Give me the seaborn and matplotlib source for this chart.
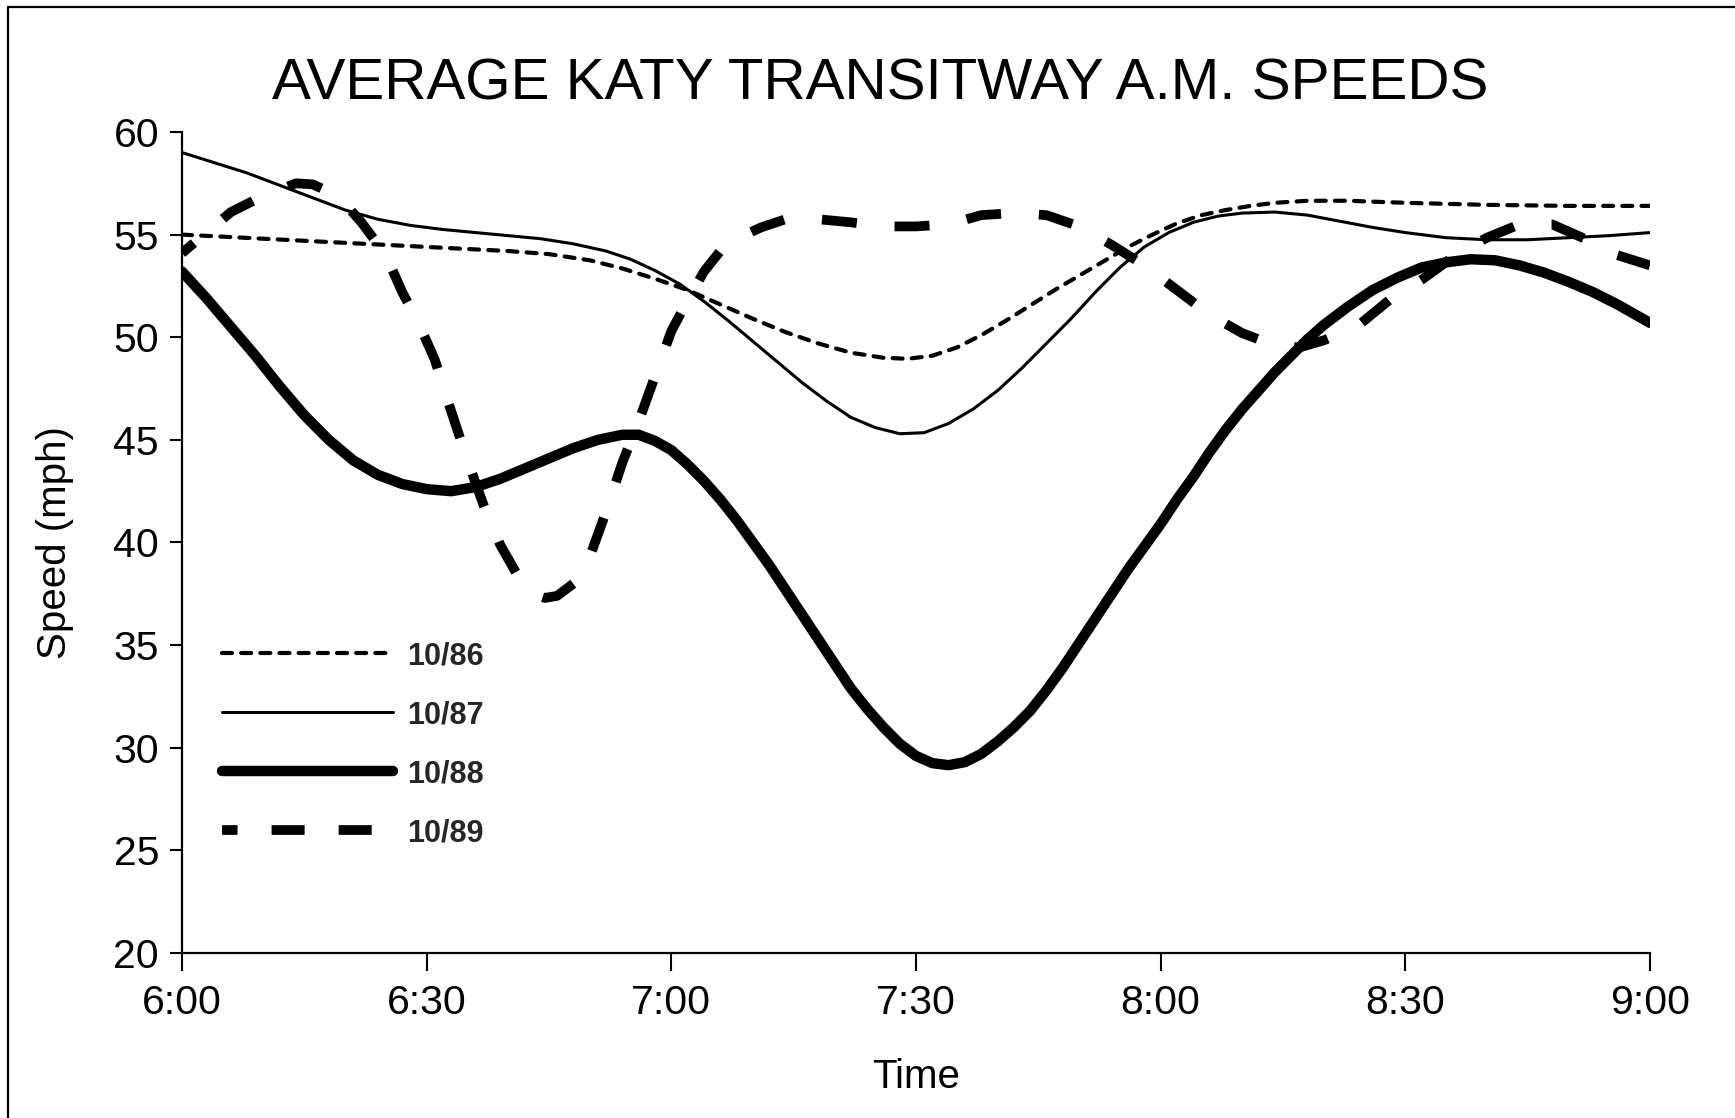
import matplotlib
matplotlib.use("Agg")
import matplotlib.pyplot as plt
from matplotlib.lines import Line2D
import pandas as pd
import seaborn as sns

# minutes after 6:00 and average speed (mph)
t86 = [0, 10, 20, 30, 40, 45, 50, 54, 58, 62, 66, 70, 74, 78, 82, 86, 89, 92, 95, 98,
       101, 104, 107, 110, 113, 116, 119, 122, 125, 128, 131, 134, 138, 143, 150, 160,
       170, 180]
v86 = [55.0, 54.8, 54.6, 54.4, 54.2, 54.05, 53.75, 53.35, 52.85, 52.3, 51.6, 50.9,
       50.25, 49.7, 49.25, 49.0, 48.95, 49.1, 49.5, 50.1, 50.8, 51.55, 52.3, 53.0, 53.7,
       54.4, 55.0, 55.55, 55.95, 56.2, 56.4, 56.55, 56.65, 56.65, 56.55, 56.45, 56.4, 56.4]

t87 = [0, 4, 8, 12, 16, 20, 24, 28, 32, 36, 40, 44, 48, 52, 55, 58, 61, 64, 67, 70,
       73, 76, 79, 82, 85, 88, 91, 94, 97, 100, 103, 106, 109, 112, 115, 118, 121, 124,
       127, 130, 134, 138, 142, 146, 150, 155, 160, 165, 170, 175, 180]
v87 = [59.0, 58.5, 58.0, 57.4, 56.8, 56.2, 55.75, 55.45, 55.25, 55.1, 54.95, 54.8,
       54.55, 54.2, 53.8, 53.25, 52.6, 51.75, 50.8, 49.8, 48.8, 47.8, 46.9, 46.1, 45.6,
       45.3, 45.35, 45.8, 46.5, 47.4, 48.5, 49.7, 50.9, 52.2, 53.4, 54.4, 55.1, 55.6,
       55.9, 56.05, 56.1, 55.95, 55.65, 55.35, 55.1, 54.85, 54.75, 54.75, 54.85, 54.95,
       55.1]

t88 = [0, 3, 6, 9, 12, 15, 18, 21, 24, 27, 30, 33, 36, 39, 42, 45, 48, 51, 54, 56,
       58, 60, 62, 64, 66, 68, 70, 72, 74, 76, 78, 80, 82, 84, 86, 88, 90, 92, 94, 96,
       98, 100, 102, 104, 106, 108, 110, 112, 114, 116, 118, 120, 122, 124, 126, 128,
       130, 132, 134, 136, 138, 140, 143, 146, 149, 152, 155, 158, 161, 164, 167, 170,
       173, 176, 178, 180]
v88 = [53.2, 51.9, 50.5, 49.1, 47.6, 46.2, 45.0, 44.0, 43.3, 42.85, 42.6, 42.5, 42.7,
       43.1, 43.6, 44.1, 44.6, 45.0, 45.25, 45.25, 44.95, 44.5, 43.8, 43.0, 42.1, 41.1,
       40.0, 38.9, 37.7, 36.5, 35.3, 34.1, 32.9, 31.9, 31.0, 30.2, 29.6, 29.25, 29.15,
       29.3, 29.7, 30.3, 31.0, 31.8, 32.8, 33.9, 35.1, 36.3, 37.5, 38.7, 39.8, 40.9,
       42.1, 43.2, 44.4, 45.5, 46.5, 47.4, 48.3, 49.1, 49.9, 50.6, 51.5, 52.3, 52.9,
       53.4, 53.65, 53.8, 53.75, 53.5, 53.15, 52.7, 52.2, 51.6, 51.15, 50.7]

t89 = [0, 3, 6, 10, 14, 16, 18, 20, 22, 25, 27, 29, 31, 33, 35, 37, 39, 41, 43, 44.5,
       46, 48, 50, 52, 54, 56, 58, 60, 62, 64, 66, 68, 71, 74, 78, 82, 86, 90, 94, 98,
       102, 106, 110, 114, 118, 122, 126, 130, 134, 137, 140, 144, 148, 152, 156, 160,
       164, 168, 172, 176, 180]
v89 = [54.1, 55.1, 56.1, 56.9, 57.5, 57.45, 57.1, 56.5, 55.6, 54.0, 52.2, 50.7, 48.9,
       46.4, 44.0, 41.8, 39.9, 38.5, 37.5, 37.3, 37.4, 38.0, 39.3, 41.5, 43.9, 45.9,
       48.1, 50.3, 51.8, 53.2, 54.2, 54.8, 55.35, 55.75, 55.75, 55.6, 55.4, 55.4, 55.5,
       55.95, 56.05, 55.95, 55.4, 54.5, 53.5, 52.3, 51.1, 50.2, 49.6, 49.5, 49.85, 50.5,
       51.8, 52.8, 53.95, 54.85, 55.5, 55.5, 54.8, 54.0, 53.5]

series_labels = ["10/86", "10/87", "10/88", "10/89"]
tick_minutes = [0, 30, 60, 90, 120, 150, 180]
tick_labels = ["6:00", "6:30", "7:00", "7:30", "8:00", "8:30", "9:00"]
y_ticks = [20, 25, 30, 35, 40, 45, 50, 55, 60]

frames = []
for label, t, v in zip(series_labels, [t86, t87, t88, t89], [v86, v87, v88, v89]):
    frames.append(pd.DataFrame({"minute": t, "speed": v, "period": label}))
data = pd.concat(frames, ignore_index=True)

styles = {
    "10/86": dict(lw=3.0, ls=(0, (2.4, 2.2)), cap="round"),
    "10/87": dict(lw=2.2, ls="-", cap="round"),
    "10/88": dict(lw=7.5, ls="-", cap="round"),
    "10/89": dict(lw=7.0, ls=(2.0, (3.6, 3.9)), cap="butt"),
}

sns.set_theme(style="white")
plt.rcParams["font.family"] = ["Liberation Sans", "DejaVu Sans"]

fig = plt.figure(figsize=(17.35, 11.18), dpi=100)
ax = fig.add_axes([182 / 1735, 1 - 953 / 1118, (1650 - 182) / 1735, (953 - 132) / 1118])

for label in series_labels:
    st = styles[label]
    sns.lineplot(data=data[data["period"] == label], x="minute", y="speed",
                 color="black", linewidth=st["lw"], linestyle=st["ls"],
                 errorbar=None, label=label, ax=ax)
    line = ax.lines[-1]
    line.set_dash_capstyle(st["cap"])
    line.set_solid_capstyle("round")
    line.set_solid_joinstyle("round")

ax.set_xlim(0, 180)
ax.set_ylim(20, 60)
ax.set_xticks(tick_minutes)
ax.set_xticklabels(tick_labels)
ax.set_yticks(y_ticks)
ax.tick_params(axis="x", direction="out", length=13, width=1.5, pad=9,
               labelsize=29.5, colors="black", bottom=True)
ax.tick_params(axis="y", direction="out", length=8.5, width=1.5, pad=8,
               labelsize=29.5, colors="black", left=True)
for side in ["top", "right"]:
    ax.spines[side].set_visible(False)
for side in ["left", "bottom"]:
    ax.spines[side].set_color("black")
    ax.spines[side].set_linewidth(1.6)

ax.set_xlabel("Time", fontsize=29, color="black", labelpad=26)
ax.set_ylabel("Speed (mph)", fontsize=29, color="black", labelpad=28)

leg = ax.legend(loc="upper left", bbox_to_anchor=(40 / 1468, 0.38), frameon=False,
                handlelength=5.6, handletextpad=0.45, labelspacing=0.95,
                borderpad=0, borderaxespad=0,
                prop={"family": ["Liberation Sans", "DejaVu Sans"], "weight": "bold", "size": 22})
for h, label in zip(leg.legend_handles, series_labels):
    h.set_dash_capstyle(styles[label]["cap"])
leg.legend_handles[3].set_linestyle((1.8, (3.4, 3.5)))

fig.text(880 / 1735, 1 - 85 / 1118, "AVERAGE KATY TRANSITWAY A.M. SPEEDS",
         ha="center", va="center", fontsize=42, color="black",
         family=["Liberation Sans", "DejaVu Sans"])

# scanned page border (left and top edges)
fig.add_artist(Line2D([8 / 1735, 8 / 1735], [0, 1 - 7 / 1118], transform=fig.transFigure,
                      color="black", lw=1.6))
fig.add_artist(Line2D([8 / 1735, 1], [1 - 7 / 1118, 1 - 7 / 1118], transform=fig.transFigure,
                      color="black", lw=1.6))

fig.savefig("out.png", dpi=100, facecolor="white")
